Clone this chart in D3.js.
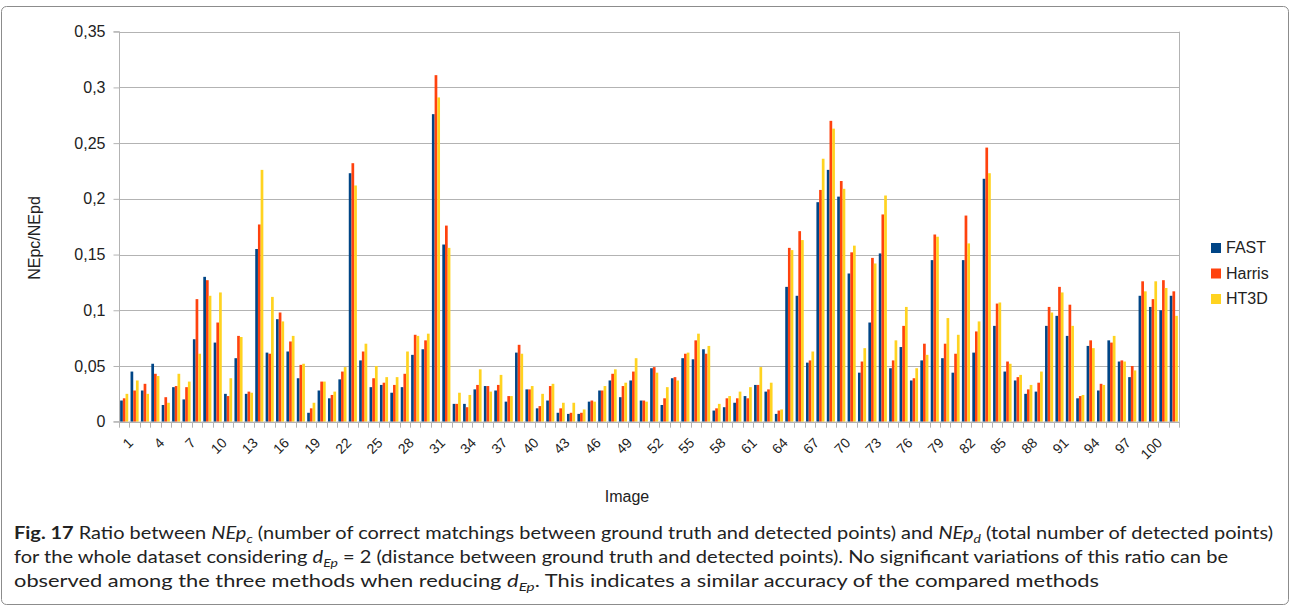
<!DOCTYPE html>
<html><head><meta charset="utf-8">
<script src="https://cdn.jsdelivr.net/npm/d3@7"></script>
<style>body{margin:0;background:#fff}svg{display:block}</style>
</head><body><svg id="c" width="1291" height="613"></svg>
<script>
const categories = d3.range(1, 103).map(String);
const xTickLabels = ["1","4","7","10","13","16","19","22","25","28","31","34","37","40","43","46","49","52","55","58","61","64","67","70","73","76","79","82","85","88","91","94","97","100"];
const yTicks = [0,0.05,0.1,0.15,0.2,0.25,0.3,0.35];
const yTickLabels = ["0","0,05","0,1","0,15","0,2","0,25","0,3","0,35"];
const seriesNames = ["FAST","Harris","HT3D"];
const seriesColors = ["#004586","#ff420e","#ffd320"];
const fast = [0.019,0.045,0.028,0.052,0.015,0.031,0.020,0.074,0.130,0.071,0.025,0.057,0.025,0.155,0.062,0.092,0.063,0.039,0.008,0.028,0.021,0.038,0.223,0.055,0.031,0.033,0.026,0.031,0.060,0.065,0.276,0.159,0.016,0.016,0.029,0.032,0.028,0.018,0.062,0.029,0.012,0.019,0.008,0.007,0.007,0.018,0.028,0.037,0.022,0.037,0.019,0.048,0.015,0.039,0.057,0.056,0.065,0.010,0.013,0.017,0.023,0.033,0.027,0.007,0.121,0.113,0.053,0.197,0.226,0.202,0.133,0.044,0.089,0.151,0.048,0.067,0.037,0.055,0.145,0.057,0.044,0.145,0.062,0.218,0.086,0.045,0.037,0.025,0.027,0.086,0.095,0.077,0.021,0.068,0.028,0.073,0.054,0.040,0.113,0.103,0.100,0.113];
const harris = [0.021,0.028,0.034,0.043,0.022,0.032,0.031,0.110,0.127,0.089,0.023,0.077,0.027,0.177,0.061,0.098,0.072,0.051,0.012,0.036,0.024,0.045,0.232,0.063,0.039,0.035,0.033,0.043,0.078,0.073,0.311,0.176,0.016,0.013,0.033,0.032,0.033,0.023,0.069,0.029,0.014,0.032,0.012,0.008,0.008,0.019,0.028,0.043,0.032,0.045,0.019,0.049,0.021,0.040,0.061,0.073,0.061,0.012,0.021,0.021,0.021,0.033,0.029,0.010,0.156,0.171,0.055,0.208,0.270,0.216,0.152,0.054,0.147,0.186,0.055,0.086,0.039,0.070,0.168,0.070,0.061,0.185,0.081,0.246,0.106,0.054,0.040,0.029,0.035,0.103,0.121,0.105,0.023,0.073,0.034,0.071,0.055,0.050,0.126,0.110,0.127,0.117];
const ht3d = [0.025,0.037,0.025,0.041,0.017,0.043,0.036,0.061,0.113,0.116,0.039,0.076,0.026,0.226,0.112,0.090,0.077,0.052,0.017,0.036,0.027,0.049,0.212,0.070,0.050,0.040,0.040,0.063,0.077,0.079,0.291,0.156,0.026,0.024,0.047,0.027,0.042,0.023,0.061,0.032,0.025,0.034,0.017,0.017,0.011,0.018,0.032,0.047,0.035,0.057,0.018,0.044,0.031,0.037,0.062,0.079,0.068,0.016,0.023,0.027,0.031,0.049,0.035,0.011,0.154,0.163,0.063,0.236,0.263,0.209,0.158,0.066,0.142,0.203,0.073,0.103,0.048,0.060,0.166,0.093,0.078,0.160,0.090,0.223,0.107,0.052,0.042,0.033,0.045,0.098,0.116,0.086,0.024,0.066,0.033,0.077,0.054,0.046,0.117,0.126,0.120,0.095];
const seriesValues = [fast, harris, ht3d];

const svg = d3.select("#c");
const FONT = "'Liberation Sans', Arial, sans-serif";
// figure frame
svg.append("rect").attr("x",1.5).attr("y",6.5).attr("width",1287).attr("height",598)
  .attr("rx",5).attr("fill","#fff").attr("stroke","#8c8c8c").attr("stroke-width",1);

const L = 119, R = 1179, T = 31.7, B = 421.7;
const x = d3.scaleBand().domain(categories).range([L, R]).paddingInner(0.22).paddingOuter(0.11);
const xs = d3.scaleBand().domain(seriesNames).range([0, x.bandwidth()]);
const y = d3.scaleLinear().domain([0, 0.35]).range([B, T]);

// gridlines
svg.append("g").selectAll("line").data(yTicks).join("line")
  .attr("x1", L).attr("x2", R).attr("y1", d => Math.round(y(d))+0.5).attr("y2", d => Math.round(y(d))+0.5)
  .attr("stroke", "#b3b3b3").attr("stroke-width", 1);
svg.append("line").attr("x1", R+0.5).attr("x2", R+0.5).attr("y1", T).attr("y2", B).attr("stroke","#b3b3b3");

// bars
const data = [];
categories.forEach((c, i) => seriesNames.forEach((s, j) => data.push({c, s, v: seriesValues[j][i], col: seriesColors[j]})));
svg.append("g").selectAll("rect").data(data).join("rect")
  .attr("x", d => x(d.c) + xs(d.s)).attr("width", xs.bandwidth())
  .attr("y", d => y(d.v)).attr("height", d => y(0) - y(d.v)).attr("fill", d => d.col);

// y axis
const yAxis = d3.axisLeft(y).tickValues(yTicks).tickFormat((d,i) => yTickLabels[i]).tickSize(6).tickPadding(8);
const gy = svg.append("g").attr("transform", `translate(${L+0.5},0)`).call(yAxis);
gy.select(".domain").attr("stroke", "#b3b3b3").attr("d", `M-6,${T}H0V${B}H-6`);
gy.selectAll(".tick line").attr("stroke", "#b3b3b3");
gy.selectAll("text").attr("font-family", FONT).attr("font-size", 16).attr("fill", "#222");

// x axis line + ticks at category boundaries
const step = x.step();
const bounds = categories.map(c => x(c) - step * 0.11).concat([R]);
svg.append("line").attr("x1", L).attr("x2", R).attr("y1", B+0.5).attr("y2", B+0.5).attr("stroke", "#b3b3b3");
svg.append("g").selectAll("line").data(bounds).join("line")
  .attr("x1", d => Math.round(d)+0.5).attr("x2", d => Math.round(d)+0.5).attr("y1", B).attr("y2", B+6)
  .attr("stroke", "#b3b3b3");
svg.append("g").selectAll("text").data(xTickLabels).join("text")
  .attr("transform", d => `translate(${x(d) + x.bandwidth()/2 + 3},${B+15}) rotate(-45)`)
  .attr("text-anchor", "end").attr("dy", "0.7em")
  .attr("font-family", FONT).attr("font-size", 14).attr("fill", "#222").text(d => d);

// axis titles
svg.append("text").attr("x", 627).attr("y", 502).attr("text-anchor","middle")
  .attr("font-family", FONT).attr("font-size", 16).attr("fill","#222").text("Image");
svg.append("text").attr("transform", `translate(40,238) rotate(-90)`).attr("text-anchor","middle")
  .attr("font-family", FONT).attr("font-size", 16).attr("fill","#222").text("NEpc/NEpd");

// legend
const lg = svg.append("g").attr("transform", "translate(1211,243)");
seriesNames.forEach((s, i) => {
  const g = lg.append("g").attr("transform", `translate(0,${i*25.5})`);
  g.append("rect").attr("width", 10).attr("height", 10).attr("fill", seriesColors[i]);
  g.append("text").attr("x", 15).attr("y", 10).attr("font-family", FONT).attr("font-size", 16).attr("fill","#222").text(s);
});

// caption
const CF = "Lato, 'Open Sans', sans-serif";
function cap(yb, parts, len) {
  const t = svg.append("text").attr("x", 14).attr("y", yb).attr("font-family", CF).attr("font-size", 16.5).attr("fill", "#222")
    .attr("textLength", len).attr("lengthAdjust", "spacingAndGlyphs");
  parts.forEach(p => {
    const ts = t.append("tspan").text(p.t);
    if (p.b) ts.attr("font-weight", "bold");
    if (p.i) ts.attr("font-style", "italic");
    if (p.sub) ts.attr("font-size", 11.5).attr("dy", 4);
    if (p.up) ts.attr("dy", -4);
  });
}
cap(539, [{t:"Fig. 17", b:1},{t:" Ratio between "},{t:"NEp", i:1},{t:"c", i:1, sub:1},{t:" (number of correct matchings between ground truth and detected points) and ", up:1},{t:"NEp", i:1},{t:"d", i:1, sub:1},{t:" (total number of detected points)", up:1}], 1259);
cap(563, [{t:"for the whole dataset considering "},{t:"d", i:1},{t:"Ep", i:1, sub:1},{t:" = 2 (distance between ground truth and detected points). No significant variations of this ratio can be", up:1}], 1214);
cap(587, [{t:"observed among the three methods when reducing "},{t:"d", i:1},{t:"Ep", i:1, sub:1},{t:". This indicates a similar accuracy of the compared methods", up:1}], 1085);
</script></body></html>
